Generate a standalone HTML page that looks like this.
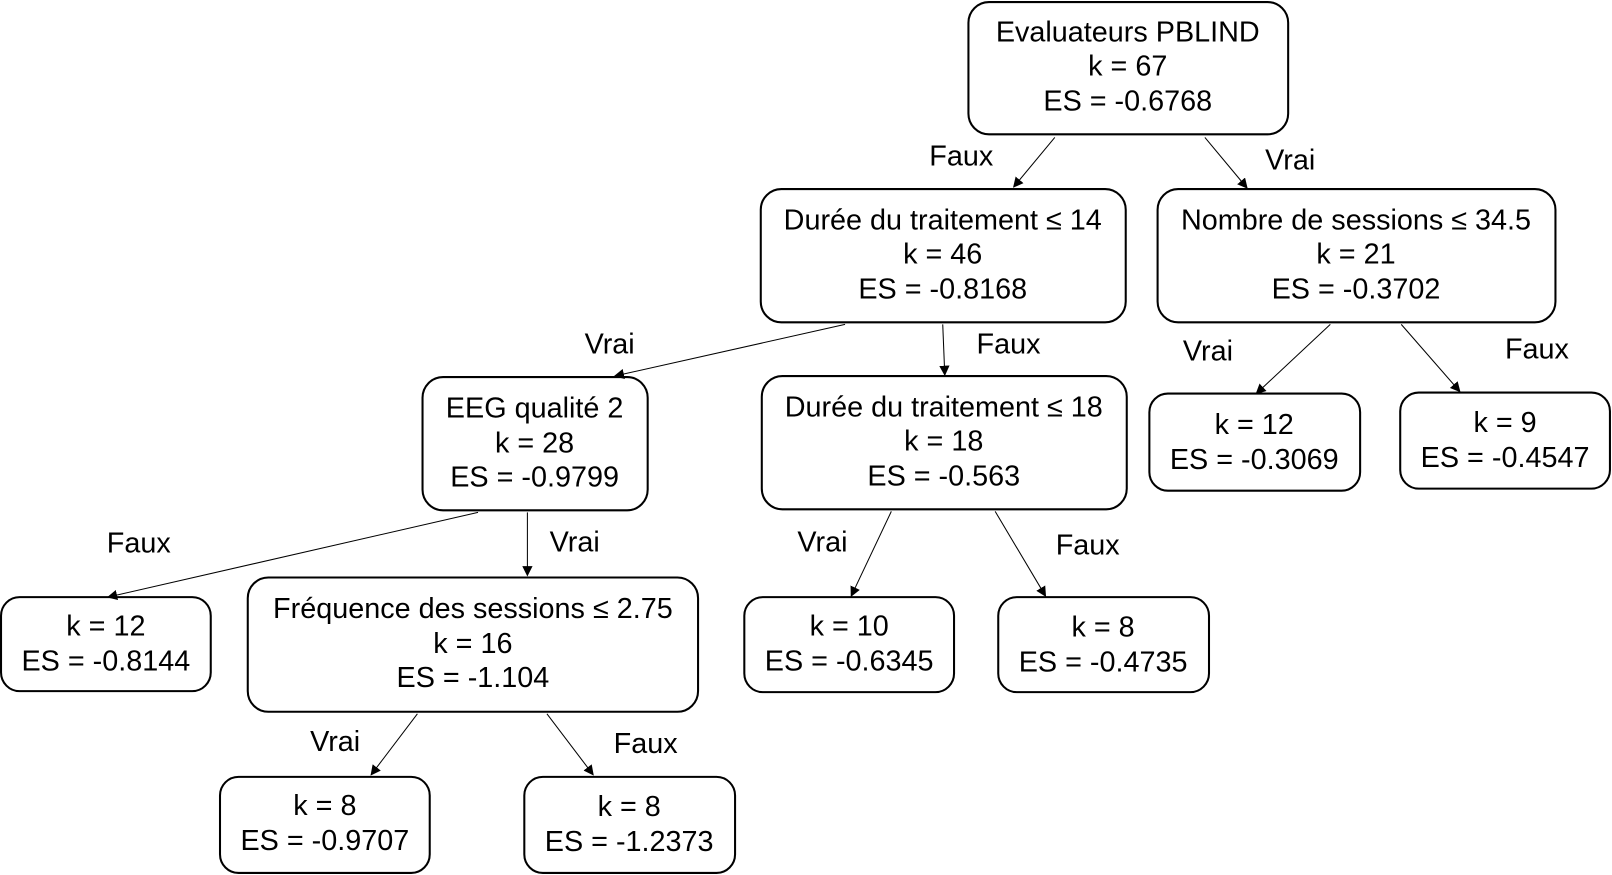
<!DOCTYPE html>
<html><head><meta charset="utf-8"><style>
html,body{margin:0;padding:0;background:#fff;}
svg{display:block;}
text{font-family:"Liberation Sans",sans-serif;font-size:28px;fill:#000;text-anchor:middle;}
rect{fill:#fff;stroke:#000;stroke-width:2;}
line{stroke:#000;stroke-width:1;}
</style></head><body>
<svg width="1612" height="875" viewBox="0 0 1568 847" preserveAspectRatio="none" xmlns="http://www.w3.org/2000/svg">
<defs><marker id="a" markerWidth="10" markerHeight="10" refX="9" refY="5" orient="auto" markerUnits="userSpaceOnUse" viewBox="0 0 10 10"><path d="M0,0 L10,5 L0,10 z" fill="#000"/></marker></defs>
<g transform="translate(0,-2)">
<g>
<rect x="942" y="4" width="311" height="128" rx="20"/>
<text x="1097" y="42">Evaluateurs PBLIND</text><text x="1097" y="75">k = 67</text><text x="1097" y="109">ES = -0.6768</text>

<rect x="740" y="185" width="355" height="129" rx="20"/>
<text x="917" y="224">Durée du traitement ≤ 14</text><text x="917" y="257">k = 46</text><text x="917" y="291">ES = -0.8168</text>

<rect x="1126" y="185" width="387" height="129" rx="20"/>
<text x="1319" y="224">Nombre de sessions ≤ 34.5</text><text x="1319" y="257">k = 21</text><text x="1319" y="291">ES = -0.3702</text>

<rect x="411" y="367" width="219" height="129" rx="20"/>
<text x="520" y="406">EEG qualité 2</text><text x="520" y="440">k = 28</text><text x="520" y="473">ES = -0.9799</text>

<rect x="741" y="366" width="355" height="129" rx="20"/>
<text x="918" y="405">Durée du traitement ≤ 18</text><text x="918" y="438">k = 18</text><text x="918" y="472">ES = -0.563</text>

<rect x="1118" y="383" width="205" height="94" rx="18"/>
<text x="1220" y="422">k = 12</text><text x="1220" y="456">ES = -0.3069</text>

<rect x="1362" y="382" width="204" height="93" rx="18"/>
<text x="1464" y="420">k = 9</text><text x="1464" y="454">ES = -0.4547</text>

<rect x="1" y="580" width="204" height="91" rx="18"/>
<text x="103" y="617">k = 12</text><text x="103" y="651">ES = -0.8144</text>

<rect x="241" y="561" width="438" height="130" rx="20"/>
<text x="460" y="600">Fréquence des sessions ≤ 2.75</text><text x="460" y="634">k = 16</text><text x="460" y="667">ES = -1.104</text>

<rect x="724" y="580" width="204" height="92" rx="18"/>
<text x="826" y="617">k = 10</text><text x="826" y="651">ES = -0.6345</text>

<rect x="971" y="580" width="205" height="92" rx="18"/>
<text x="1073" y="618">k = 8</text><text x="1073" y="652">ES = -0.4735</text>

<rect x="214" y="754" width="204" height="93" rx="18"/>
<text x="316" y="791">k = 8</text><text x="316" y="825">ES = -0.9707</text>

<rect x="510" y="754" width="205" height="93" rx="18"/>
<text x="612" y="792">k = 8</text><text x="612" y="826">ES = -1.2373</text>
</g>
<g>
<line x1="1026" y1="135" x2="986" y2="183" marker-end="url(#a)"/>
<line x1="1172" y1="135" x2="1213" y2="184" marker-end="url(#a)"/>
<line x1="822" y1="316" x2="598" y2="366" marker-end="url(#a)"/>
<line x1="917" y1="316" x2="919" y2="365" marker-end="url(#a)"/>
<line x1="1294" y1="316" x2="1222" y2="383" marker-end="url(#a)"/>
<line x1="1363" y1="316" x2="1420" y2="381" marker-end="url(#a)"/>
<line x1="465" y1="498" x2="105" y2="580" marker-end="url(#a)"/>
<line x1="513" y1="498" x2="513" y2="559" marker-end="url(#a)"/>
<line x1="867" y1="497" x2="828" y2="579" marker-end="url(#a)"/>
<line x1="968" y1="497" x2="1017" y2="579" marker-end="url(#a)"/>
<line x1="406" y1="693" x2="361" y2="752" marker-end="url(#a)"/>
<line x1="532" y1="693" x2="577" y2="752" marker-end="url(#a)"/>
</g>
<g>
<text x="935" y="162">Faux</text><text x="1255" y="166">Vrai</text>
<text x="593" y="344">Vrai</text><text x="981" y="344">Faux</text>
<text x="1175" y="351">Vrai</text><text x="1495" y="349">Faux</text>
<text x="135" y="537">Faux</text><text x="559" y="536">Vrai</text>
<text x="800" y="536">Vrai</text><text x="1058" y="539">Faux</text>
<text x="326" y="729">Vrai</text><text x="628" y="731">Faux</text>
</g>
</g>
</svg>
</body></html>
